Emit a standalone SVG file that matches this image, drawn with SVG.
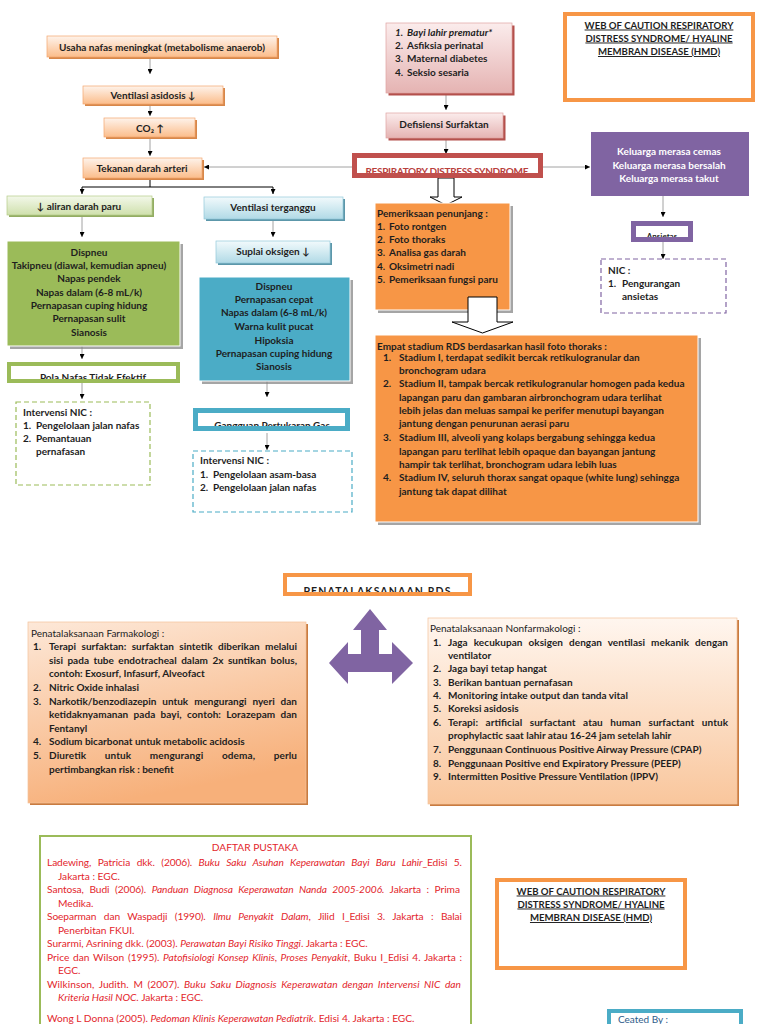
<svg xmlns="http://www.w3.org/2000/svg" width="768" height="1024" viewBox="0 0 768 1024">
<style>
.t{font-family:Lato,'Liberation Sans',sans-serif;font-size:10px;font-weight:bold;fill:#1e1e1e}
.c{text-anchor:middle}
.w{fill:#ffffff}
.h{font-size:9.6px}
.r{font-family:Lato,'Liberation Sans',sans-serif;font-size:10.2px;fill:#e3262c}
.i{font-style:italic}
.u{text-decoration:underline}
.ln{stroke:#8a8a8a;stroke-width:0.8;fill:none}
.blk{fill:#ffffff;stroke:#000;stroke-width:1}
.sh{fill:#7f7f7f;opacity:0.7}
</style>
<defs>
<marker id="ah" viewBox="0 0 6 6" refX="6" refY="3" markerWidth="5" markerHeight="5" orient="auto" markerUnits="userSpaceOnUse"><path d="M0,0 L6,3 L0,6 z" fill="#000"/></marker>
<linearGradient id="gO" x1="0" y1="0" x2="0" y2="1"><stop offset="0" stop-color="#fef3eb"/><stop offset="1" stop-color="#fbbd8b"/></linearGradient>
<linearGradient id="gG" x1="0" y1="0" x2="0" y2="1"><stop offset="0" stop-color="#f3f8ea"/><stop offset="1" stop-color="#cfe0ac"/></linearGradient>
<linearGradient id="gB" x1="0" y1="0" x2="0" y2="1"><stop offset="0" stop-color="#f2fafc"/><stop offset="1" stop-color="#b1dae6"/></linearGradient>
<linearGradient id="gP" x1="0" y1="0" x2="0" y2="1"><stop offset="0" stop-color="#fbecec"/><stop offset="1" stop-color="#e5b3b2"/></linearGradient>
<linearGradient id="gF" x1="0" y1="0" x2="0.3" y2="1"><stop offset="0" stop-color="#fde8d8"/><stop offset="1" stop-color="#f7b07a"/></linearGradient>
<linearGradient id="gN" x1="0" y1="0" x2="0" y2="1"><stop offset="0" stop-color="#fff6ef"/><stop offset="1" stop-color="#f9c69c"/></linearGradient>
</defs>
<rect width="768" height="1024" fill="#ffffff"/>

<g id="connectors">
<line class="ln" x1="150" y1="58" x2="150" y2="74" marker-end="url(#ah)"/>
<line class="ln" x1="150" y1="104" x2="150" y2="116" marker-end="url(#ah)"/>
<line class="ln" x1="150" y1="137" x2="150" y2="156" marker-end="url(#ah)"/>
<path d="M150,178 V187 M82,187 H273" stroke="#000" stroke-width="1" fill="none"/>
<line x1="82" y1="187" x2="82" y2="194" stroke="#000" stroke-width="1" marker-end="url(#ah)"/>
<line x1="273" y1="187" x2="273" y2="194" stroke="#000" stroke-width="1" marker-end="url(#ah)"/>
<line class="ln" x1="352" y1="167" x2="204" y2="167" marker-end="url(#ah)"/>
<line class="ln" x1="543" y1="167" x2="590" y2="167" marker-end="url(#ah)"/>
<line class="ln" x1="446" y1="93" x2="446" y2="110" marker-end="url(#ah)"/>
<line class="ln" x1="446" y1="138" x2="446" y2="154" marker-end="url(#ah)"/>
<line class="ln" x1="82" y1="215" x2="82" y2="237" marker-end="url(#ah)"/>
<line class="ln" x1="82" y1="346" x2="82" y2="359" marker-end="url(#ah)"/>
<line class="ln" x1="82" y1="383" x2="82" y2="399" marker-end="url(#ah)"/>
<line class="ln" x1="273" y1="219" x2="273" y2="237" marker-end="url(#ah)"/>
<line class="ln" x1="267" y1="381" x2="267" y2="397" marker-end="url(#ah)"/>
<line class="ln" x1="267" y1="433" x2="267" y2="450" marker-end="url(#ah)"/>
<line class="ln" x1="663" y1="196" x2="663" y2="217" marker-end="url(#ah)"/>
<line class="ln" x1="663" y1="242" x2="663" y2="259" marker-end="url(#ah)"/>
<path class="blk" d="M438,178 H454 V197 H462 L446,205 L430,197 H438 Z"/>
</g>

<g id="usaha">
<rect x="49" y="38" width="230" height="21" fill="#d7874a"/>
<rect x="47" y="36" width="230" height="21" fill="url(#gO)" stroke="#f3a56d" stroke-width="0.7"/>
<text class="t c" x="162" y="50.5">Usaha nafas meningkat (metabolisme anaerob)</text>
</g>
<g id="ventilasi-asidosis">
<rect x="85" y="88" width="140" height="18" fill="#d7874a"/>
<rect x="83" y="86" width="140" height="18" fill="url(#gO)" stroke="#f3a56d" stroke-width="0.7"/>
<text class="t c" x="153" y="99">Ventilasi asidosis ↓</text>
</g>
<g id="co2">
<rect x="106" y="120" width="91" height="19" fill="#d7874a"/>
<rect x="104" y="118" width="91" height="19" fill="url(#gO)" stroke="#f3a56d" stroke-width="0.7"/>
<text class="t c" x="150" y="131.5">CO₂ ↑</text>
</g>
<g id="tekanan">
<rect x="85" y="160" width="119" height="20" fill="#d7874a"/>
<rect x="83" y="158" width="119" height="20" fill="url(#gO)" stroke="#f3a56d" stroke-width="0.7"/>
<text class="t c" x="142" y="172">Tekanan darah arteri</text>
</g>
<g id="aliran">
<rect x="9" y="198" width="145" height="19" fill="#93ad63"/>
<rect x="7" y="196" width="145" height="19" fill="url(#gG)" stroke="#b5cc88" stroke-width="0.7"/>
<text class="t c" x="79" y="209.5">↓ aliran darah paru</text>
</g>
<g id="ventilasi-terganggu">
<rect x="206" y="199" width="139" height="22" fill="#5c97aa"/>
<rect x="204" y="197" width="139" height="22" fill="url(#gB)" stroke="#93c9da" stroke-width="0.7"/>
<text class="t c" x="273" y="210.5">Ventilasi terganggu</text>
</g>
<g id="suplai">
<rect x="218" y="243" width="114" height="22" fill="#5c97aa"/>
<rect x="216" y="241" width="114" height="22" fill="url(#gB)" stroke="#93c9da" stroke-width="0.7"/>
<text class="t c" x="273" y="254.5">Suplai oksigen ↓</text>
</g>

<g id="gejala-hijau">
<rect class="sh" x="10" y="244" width="173" height="105"/>
<rect x="7" y="241" width="173" height="105" fill="#9bbb59" stroke="#ffffff" stroke-width="1"/>
<text class="t c" x="89" y="256">Dispneu</text>
<text class="t c" x="89" y="269">Takipneu (diawal, kemudian apneu)</text>
<text class="t c" x="89" y="282">Napas pendek</text>
<text class="t c" x="89" y="296">Napas dalam (6-8 mL/k)</text>
<text class="t c" x="89" y="309">Pernapasan cuping hidung</text>
<text class="t c" x="89" y="322">Pernapasan sulit</text>
<text class="t c" x="89" y="336">Sianosis</text>
</g>
<g id="pola-nafas">
<rect x="9" y="364" width="169" height="17" fill="#ffffff"/>
<text class="t c" x="93" y="380.5">Pola Nafas Tidak Efektif</text>
<rect x="9" y="364" width="169" height="17" fill="none" stroke="#9bbb59" stroke-width="4"/>
</g>
<g id="nic-hijau">
<rect x="16" y="402" width="134" height="83" fill="#ffffff" stroke="#9bbb59" stroke-width="1.2" stroke-dasharray="5,3"/>
<text class="t" x="23" y="416">Intervensi NIC :</text>
<text class="t" x="23" y="429">1.</text><text class="t" x="36" y="429">Pengelolaan jalan nafas</text>
<text class="t" x="23" y="442">2.</text><text class="t" x="36" y="442">Pemantauan</text>
<text class="t" x="36" y="455">pernafasan</text>
</g>

<g id="gejala-biru">
<rect class="sh" x="202" y="280" width="151" height="104"/>
<rect x="199" y="277" width="151" height="104" fill="#4bacc6" stroke="#ffffff" stroke-width="1"/>
<text class="t c" x="274" y="290">Dispneu</text>
<text class="t c" x="274" y="303">Pernapasan cepat</text>
<text class="t c" x="274" y="316">Napas dalam (6-8 mL/k)</text>
<text class="t c" x="274" y="330">Warna kulit pucat</text>
<text class="t c" x="274" y="344">Hipoksia</text>
<text class="t c" x="274" y="357">Pernapasan cuping hidung</text>
<text class="t c" x="274" y="370">Sianosis</text>
</g>
<g id="gangguan">
<rect x="195.5" y="410.5" width="152" height="18" fill="#ffffff"/>
<text class="t c" x="272" y="428.5">Gangguan Pertukaran Gas</text>
<rect x="195.5" y="410.5" width="152" height="18" fill="none" stroke="#4bacc6" stroke-width="5"/>
</g>
<g id="nic-biru">
<rect x="193" y="451" width="159" height="61" fill="#ffffff" stroke="#4bacc6" stroke-width="1.2" stroke-dasharray="5,3"/>
<text class="t" x="200" y="464">Intervensi NIC :</text>
<text class="t" x="200" y="478">1.</text><text class="t" x="213" y="478">Pengelolaan asam-basa</text>
<text class="t" x="200" y="491">2.</text><text class="t" x="213" y="491">Pengelolaan jalan nafas</text>
</g>

<g id="etiologi">
<rect x="388.5" y="25.5" width="126" height="70" fill="#b4504c"/>
<rect x="386" y="23" width="126" height="70" fill="url(#gP)" stroke="#dfa3a2" stroke-width="0.7"/>
<text class="t i" x="395" y="36">1.</text><text class="t i" x="407" y="36">Bayi lahir prematur*</text>
<text class="t" x="395" y="49">2.</text><text class="t" x="407" y="49">Asfiksia perinatal</text>
<text class="t" x="395" y="62">3.</text><text class="t" x="407" y="62">Maternal diabetes</text>
<text class="t" x="395" y="76">4.</text><text class="t" x="407" y="76">Seksio sesaria</text>
</g>
<g id="defisiensi">
<rect x="388.5" y="115.5" width="117" height="25" fill="#b4504c"/>
<rect x="386" y="113" width="117" height="25" fill="url(#gP)" stroke="#dfa3a2" stroke-width="0.7"/>
<text class="t c" x="444" y="127.5">Defisiensi Surfaktan</text>
</g>
<g id="rds">
<rect x="354.5" y="155.5" width="186" height="20" fill="#ffffff"/>
<text class="t c" x="447" y="174.5" style="fill:#b9403c" textLength="163" lengthAdjust="spacing">RESPIRATORY DISTRESS SYNDROME</text>
<rect x="354.5" y="155.5" width="186" height="20" fill="none" stroke="#c0504d" stroke-width="5"/>
</g>

<g id="pemeriksaan">
<rect class="sh" x="378" y="206" width="135" height="107"/>
<rect x="375" y="203" width="135" height="107" fill="#f79646" stroke="#ffffff" stroke-width="1"/>
<text class="t" x="377" y="217">Pemeriksaan penunjang :</text>
<text class="t" x="377" y="230">1.</text><text class="t" x="389" y="230">Foto rontgen</text>
<text class="t" x="377" y="243">2.</text><text class="t" x="389" y="243">Foto thoraks</text>
<text class="t" x="377" y="256">3.</text><text class="t" x="389" y="256">Analisa gas darah</text>
<text class="t" x="377" y="270">4.</text><text class="t" x="389" y="270">Oksimetri nadi</text>
<text class="t" x="377" y="283">5.</text><text class="t" x="389" y="283">Pemeriksaan fungsi paru</text>
</g>
<g id="panah-blok-2">
<path class="blk" d="M468,297 H497 V322 H513 L482.5,333 L452,322 H468 Z"/>
</g>
<g id="stadium">
<rect class="sh" x="378" y="338" width="323" height="187"/>
<rect x="375" y="335" width="323" height="187" fill="#f79646" stroke="#ffffff" stroke-width="1"/>
<text class="t" x="377" y="350">Empat stadium RDS berdasarkan hasil foto thoraks :</text>
<text class="t" x="383" y="361">1.</text><text class="t" x="399" y="361">Stadium I, terdapat sedikit bercak retikulogranular dan</text>
<text class="t" x="399" y="374">bronchogram udara</text>
<text class="t" x="383" y="387">2.</text><text class="t" x="399" y="387">Stadium II, tampak bercak retikulogranular homogen pada kedua</text>
<text class="t" x="399" y="401">lapangan paru dan gambaran airbronchogram udara terlihat</text>
<text class="t" x="399" y="414">lebih jelas dan meluas sampai ke perifer menutupi bayangan</text>
<text class="t" x="399" y="427">jantung dengan penurunan aerasi paru</text>
<text class="t" x="383" y="441">3.</text><text class="t" x="399" y="441">Stadium III, alveoli yang kolaps bergabung sehingga kedua</text>
<text class="t" x="399" y="455">lapangan paru terlihat lebih opaque dan bayangan jantung</text>
<text class="t" x="399" y="468">hampir tak terlihat, bronchogram udara lebih luas</text>
<text class="t" x="383" y="481">4.</text><text class="t" x="399" y="481">Stadium IV, seluruh thorax sangat opaque (white lung) sehingga</text>
<text class="t" x="399" y="495">jantung tak dapat dilihat</text>
</g>

<g id="judul-atas">
<rect x="565" y="14" width="188" height="86" fill="#ffffff" stroke="#f79646" stroke-width="4"/>
<text class="t c u h" x="659" y="28.5">WEB OF CAUTION RESPIRATORY</text>
<text class="t c u h" x="659" y="41.5">DISTRESS SYNDROME/ HYALINE</text>
<text class="t c u h" x="659" y="55">MEMBRAN DISEASE (HMD)</text>
</g>
<g id="keluarga">
<rect x="591" y="132" width="158" height="64" fill="#8064a2"/>
<text class="t c w" x="669" y="155">Keluarga merasa cemas</text>
<text class="t c w" x="669" y="168.5">Keluarga merasa bersalah</text>
<text class="t c w" x="669" y="182">Keluarga merasa takut</text>
</g>
<g id="ansietas">
<rect x="633.5" y="223.5" width="57" height="16" fill="#ffffff"/>
<text class="t c" x="662" y="238.5" style="font-size:8px">Ansietas</text>
<rect x="633.5" y="223.5" width="57" height="16" fill="none" stroke="#8064a2" stroke-width="5"/>
</g>
<g id="nic-ungu">
<rect x="601" y="259" width="125" height="54" fill="#ffffff" stroke="#8064a2" stroke-width="1.2" stroke-dasharray="5,3"/>
<text class="t" x="608" y="274">NIC :</text>
<text class="t" x="608" y="287">1.</text><text class="t" x="622" y="287">Pengurangan</text>
<text class="t" x="622" y="300">ansietas</text>
</g>

<g id="penatalaksanaan">
<rect x="285" y="575" width="185" height="19" fill="#ffffff"/>
<text class="t c" x="377" y="594.5" style="font-size:10.5px" textLength="147" lengthAdjust="spacing">PENATALAKSANAAN RDS</text>
<rect x="285" y="575" width="185" height="19" fill="none" stroke="#f79646" stroke-width="4"/>
</g>
<g id="panah-tiga">
<polygon points="370,609 387,630 379,630 379,654 392,654 392,642 413,663 392,684 392,672 348,672 348,684 329,663 348,642 348,654 361,654 361,630 353,630" fill="#8064a2"/>
</g>
<g id="farmakologi">
<rect x="30" y="624" width="278" height="181" fill="#c97b40"/>
<rect x="28" y="622" width="278" height="181" fill="url(#gF)" stroke="#f3c29a" stroke-width="0.7"/>
<text class="t" x="31" y="637" style="font-weight:normal;fill:#222">Penatalaksanaan Farmakologi :</text>
<text class="t" x="33" y="650">1.</text>
<text class="t" x="49" y="650" style="word-spacing:3px" textLength="248" lengthAdjust="spacing">Terapi surfaktan: surfaktan sintetik diberikan melalui</text>
<text class="t" x="49" y="664" style="word-spacing:2px" textLength="248" lengthAdjust="spacing">sisi pada tube endotracheal dalam 2x suntikan bolus,</text>
<text class="t" x="49" y="677">contoh: Exosurf, Infasurf, Alveofact</text>
<text class="t" x="33" y="691">2.</text><text class="t" x="49" y="691">Nitric Oxide inhalasi</text>
<text class="t" x="33" y="705">3.</text>
<text class="t" x="49" y="705" style="word-spacing:3.5px" textLength="248" lengthAdjust="spacing">Narkotik/benzodiazepin untuk mengurangi nyeri dan</text>
<text class="t" x="49" y="718" style="word-spacing:2.8px" textLength="248" lengthAdjust="spacing">ketidaknyamanan pada bayi, contoh: Lorazepam dan</text>
<text class="t" x="49" y="732">Fentanyl</text>
<text class="t" x="33" y="745">4.</text><text class="t" x="49" y="745">Sodium bicarbonat untuk metabolic acidosis</text>
<text class="t" x="33" y="759">5.</text>
<text class="t" x="49" y="759" style="word-spacing:16px" textLength="248" lengthAdjust="spacing">Diuretik untuk mengurangi odema, perlu</text>
<text class="t" x="49" y="773">pertimbangkan risk : benefit</text>
</g>
<g id="nonfarmakologi">
<rect x="430" y="620" width="309" height="186" fill="#c97b40"/>
<rect x="428" y="618" width="309" height="186" fill="url(#gN)" stroke="#f3c29a" stroke-width="0.7"/>
<text class="t" x="430" y="632" style="font-weight:normal;fill:#222">Penatalaksanaan Nonfarmakologi :</text>
<text class="t" x="433" y="646">1.</text>
<text class="t" x="448" y="646" style="word-spacing:3.5px" textLength="280" lengthAdjust="spacing">Jaga kecukupan oksigen dengan ventilasi mekanik dengan</text>
<text class="t" x="448" y="659">ventilator</text>
<text class="t" x="433" y="672">2.</text><text class="t" x="448" y="672">Jaga bayi tetap hangat</text>
<text class="t" x="433" y="686">3.</text><text class="t" x="448" y="686">Berikan bantuan pernafasan</text>
<text class="t" x="433" y="699">4.</text><text class="t" x="448" y="699">Monitoring intake output dan tanda vital</text>
<text class="t" x="433" y="712">5.</text><text class="t" x="448" y="712">Koreksi asidosis</text>
<text class="t" x="433" y="726">6.</text>
<text class="t" x="448" y="726" style="word-spacing:5px" textLength="280" lengthAdjust="spacing">Terapi: artificial surfactant atau human surfactant untuk</text>
<text class="t" x="448" y="739">prophylactic saat lahir atau 16-24 jam setelah lahir</text>
<text class="t" x="433" y="753">7.</text><text class="t" x="448" y="753">Penggunaan Continuous Positive Airway Pressure (CPAP)</text>
<text class="t" x="433" y="767">8.</text><text class="t" x="448" y="767">Penggunaan Positive end Expiratory Pressure (PEEP)</text>
<text class="t" x="433" y="780">9.</text><text class="t" x="448" y="780">Intermitten Positive Pressure Ventilation (IPPV)</text>
</g>

<g id="daftar-pustaka">
<rect x="40" y="836" width="431" height="200" fill="#ffffff" stroke="#9bbb59" stroke-width="2"/>
<text class="r c" x="255" y="851">DAFTAR PUSTAKA</text>
<text class="r" x="47" y="866" style="word-spacing:4px" textLength="415" lengthAdjust="spacing">Ladewing, Patricia dkk. (2006). <tspan class="i">Buku Saku Asuhan Keperawatan Bayi Baru Lahir</tspan>_Edisi 5.</text>
<text class="r" x="58" y="880">Jakarta : EGC.</text>
<text class="r" x="47" y="893" style="word-spacing:3px" textLength="413" lengthAdjust="spacing">Santosa, Budi (2006). <tspan class="i">Panduan Diagnosa Keperawatan Nanda 2005-2006.</tspan> Jakarta : Prima</text>
<text class="r" x="58" y="907">Medika.</text>
<text class="r" x="47" y="920" style="word-spacing:5px" textLength="415" lengthAdjust="spacing">Soeparman dan Waspadji (1990). <tspan class="i">Ilmu Penyakit Dalam</tspan>, Jilid I_Edisi 3. Jakarta : Balai</text>
<text class="r" x="58" y="934">Penerbitan FKUI.</text>
<text class="r" x="47" y="947">Surarmi, Asrining dkk. (2003). <tspan class="i">Perawatan Bayi Risiko Tinggi</tspan>. Jakarta : EGC.</text>
<text class="r" x="47" y="961" style="word-spacing:1px" textLength="415" lengthAdjust="spacing">Price dan Wilson (1995). <tspan class="i">Patofisiologi Konsep Klinis, Proses Penyakit</tspan>, Buku I_Edisi 4. Jakarta :</text>
<text class="r" x="58" y="974">EGC.</text>
<text class="r" x="47" y="988" style="word-spacing:2px" textLength="414" lengthAdjust="spacing">Wilkinson, Judith. M (2007). <tspan class="i">Buku Saku Diagnosis Keperawatan dengan Intervensi NIC dan</tspan></text>
<text class="r" x="58" y="1001"><tspan class="i">Kriteria Hasil NOC.</tspan> Jakarta : EGC.</text>
<text class="r" x="47" y="1022">Wong L Donna (2005). <tspan class="i">Pedoman Klinis Keperawatan Pediatrik</tspan>. Edisi 4. Jakarta : EGC.</text>
</g>

<g id="judul-bawah">
<rect x="497" y="880" width="188" height="88" fill="#ffffff" stroke="#f79646" stroke-width="4"/>
<text class="t c u h" x="591" y="894.5">WEB OF CAUTION RESPIRATORY</text>
<text class="t c u h" x="591" y="907.5">DISTRESS SYNDROME/ HYALINE</text>
<text class="t c u h" x="591" y="921">MEMBRAN DISEASE (HMD)</text>
</g>
<g id="created-by">
<rect x="609" y="1011" width="132" height="24" fill="#ffffff" stroke="#4bacc6" stroke-width="4"/>
<text class="t" x="618" y="1022.5" style="fill:#2e5c8a;font-weight:normal">Ceated By :</text>
</g>
</svg>
